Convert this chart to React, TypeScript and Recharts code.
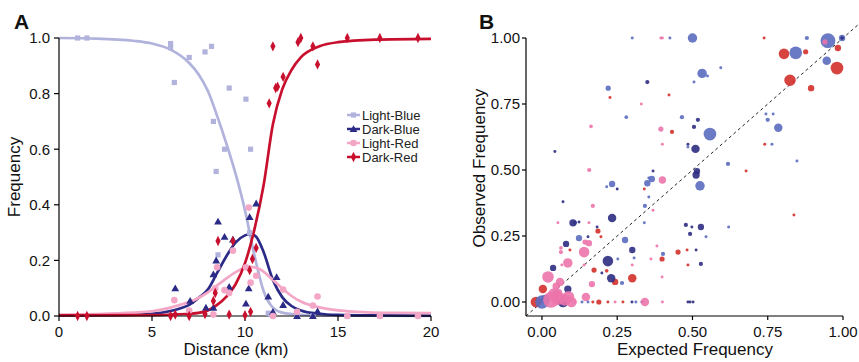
import React from 'react';
import { ComposedChart, ScatterChart, Line, Scatter, XAxis, YAxis, ZAxis, ReferenceLine } from 'recharts';

const FONT = '"Liberation Sans", Arial, sans-serif';

// ---------- Panel A data ----------
const distanceTicks = [0, 5, 10, 15, 20];
const freqTicksA = [0, 0.2, 0.4, 0.6, 0.8, 1.0];
const seriesNamesA = ['Light-Blue', 'Dark-Blue', 'Light-Red', 'Dark-Red'];

const lightBluePts: [number, number][] = [
  [1.0, 1.0], [1.5, 1.0], [6.0, 0.98], [6.0, 0.965], [6.2, 0.84], [7.0, 0.93], [7.85, 0.95], [8.2, 0.97],
  [8.3, 0.70], [8.45, 0.52], [8.9, 0.60], [9.15, 0.82], [10.05, 0.78], [10.3, 0.60], [8.55, 0.22], [10.25, 0.30],
  [11.25, 0.01], [11.4, 0.005], [12.8, 0.0], [13.65, 0.0], [15.5, 0.0], [17.25, 0.0], [19.3, 0.0],
];
const darkBluePts: [number, number][] = [
  [6.25, 0.10], [7.05, 0.055], [7.9, 0.03], [8.3, 0.03], [8.3, 0.15], [8.45, 0.20], [8.55, 0.34], [8.9, 0.285],
  [9.15, 0.105], [9.35, 0.275], [10.05, 0.045], [10.2, 0.10], [10.25, 0.356], [10.6, 0.405], [11.25, 0.07],
  [11.5, 0.015], [11.7, 0.14], [12.05, 0.04], [12.8, 0.0], [13.65, 0.0], [13.9, 0.017],
];
const lightRedPts: [number, number][] = [
  [6.2, 0.057], [7.0, 0.02], [8.3, 0.005], [8.4, 0.10], [8.5, 0.175], [8.9, 0.093], [9.15, 0.083], [9.35, 0.235],
  [10.05, 0.175], [10.2, 0.39], [10.3, 0.12], [10.6, 0.145], [11.5, 0.0], [12.05, 0.095], [12.8, 0.015],
  [13.65, 0.038], [13.9, 0.07], [15.5, 0.0], [17.25, 0.0], [19.3, 0.0],
];
const darkRedPts: [number, number][] = [
  [1.0, 0], [1.5, 0], [6.0, 0], [6.25, 0.005], [7.0, 0], [7.85, 0.007], [8.3, 0.054], [8.4, 0.083], [8.55, 0.27],
  [9.15, 0.005], [9.35, 0.27], [10.0, 0.003], [10.25, 0.165], [10.3, 0.015], [10.4, 0.205], [10.6, 0.245],
  [11.3, 0.765], [11.65, 0.82], [11.75, 0.825], [11.5, 0.97], [12.05, 0.86], [12.85, 0.985], [13.0, 1.0],
  [13.65, 0.97], [13.9, 0.905], [15.5, 1.0], [17.25, 1.0], [19.3, 1.0],
];

const lightBlueCurve: [number, number][] = [
  [0, 1.0], [2, 0.998], [4, 0.99], [5, 0.98], [6, 0.958], [7, 0.91], [7.5, 0.87], [8, 0.81], [8.5, 0.72],
  [9, 0.62], [9.5, 0.51], [10, 0.38], [10.5, 0.22], [11, 0.09], [11.5, 0.03], [12, 0.012], [13, 0.004],
  [14, 0.002], [16, 0.001], [20, 0.0],
];
const darkBlueCurve: [number, number][] = [
  [0, 0.002], [3, 0.003], [5, 0.008], [6, 0.018], [6.5, 0.027], [7, 0.04], [7.5, 0.065], [8, 0.095],
  [8.5, 0.155], [9, 0.215], [9.5, 0.265], [10, 0.29], [10.3, 0.295], [10.6, 0.285], [11, 0.23], [11.5, 0.13],
  [12, 0.068], [12.5, 0.036], [13, 0.02], [14, 0.008], [15, 0.004], [17, 0.002], [20, 0.001],
];
const lightRedCurve: [number, number][] = [
  [0, 0.005], [2, 0.007], [4, 0.012], [5, 0.017], [6, 0.03], [6.5, 0.04], [7, 0.05], [7.5, 0.065], [8, 0.085],
  [8.5, 0.11], [9, 0.135], [9.5, 0.158], [10, 0.173], [10.3, 0.177], [10.8, 0.168], [11.5, 0.13], [12, 0.1],
  [12.5, 0.072], [13, 0.052], [14, 0.031], [15, 0.02], [16, 0.015], [18, 0.011], [20, 0.01],
];
const darkRedCurve: [number, number][] = [
  [0, 0.002], [5, 0.003], [6, 0.005], [7, 0.008], [7.5, 0.011], [8, 0.02], [8.5, 0.04], [9, 0.07], [9.5, 0.115],
  [10, 0.19], [10.5, 0.31], [11, 0.47], [11.5, 0.69], [12, 0.815], [12.5, 0.885], [13, 0.93], [14, 0.97],
  [15, 0.985], [17, 0.994], [20, 0.997],
];

// ---------- Panel B data (x expected, y observed, z weight) ----------
const freqTicksB = [0, 0.25, 0.5, 0.75, 1.0];

const lightBlueB: [number, number, number][] = [
  [0.30, 1.0, 2], [0.22, 0.81, 6], [0.28, 0.70, 3], [0.355, 0.47, 2], [0.425, 1.0, 2], [0.50, 1.0, 20],
  [0.88, 1.0, 4], [0.95, 0.99, 49], [0.843, 0.944, 36], [0.946, 0.914, 16], [0.532, 0.866, 20], [0.55, 0.856, 2],
  [0.594, 0.887, 2], [0.505, 0.833, 2], [0.465, 0.70, 4], [0.558, 0.636, 36], [0.485, 0.587, 2], [0.744, 0.712, 2],
  [0.768, 0.712, 2], [0.75, 0.69, 4], [0.785, 0.66, 16], [0.764, 0.598, 2], [0.847, 0.534, 2], [0.618, 0.523, 4],
  [0.365, 0.466, 9], [0.35, 0.45, 9], [0.525, 0.44, 20], [0.355, 0.398, 2], [0.342, 0.364, 4], [0.34, 0.30, 2],
  [0.62, 0.284, 2], [0.545, 0.247, 2], [0.402, 0.182, 4], [0.233, 0.447, 9], [0.215, 0.437, 2], [0.11, 0.30, 4],
  [0.123, 0.242, 9], [0.276, 0.235, 9], [0.306, 0.167, 2], [0.252, 0.163, 2], [0.266, 0.072, 4], [0.997, 1.0, 9],
  [0.133, 0.0, 2], [0.153, 0.0, 2], [0.312, 0.0, 2], [0.332, 0.0, 2], [0.0, 0.0, 40], [0.012, 0.01, 20],
];
const darkBlueB: [number, number, number][] = [
  [0.35, 0.833, 4], [0.043, 0.57, 2], [0.518, 0.69, 4], [0.505, 0.663, 4], [0.485, 0.598, 2], [0.51, 0.58, 16],
  [0.369, 0.496, 2], [0.515, 0.496, 9], [0.512, 0.481, 12], [0.478, 0.292, 4], [0.498, 0.284, 2], [0.528, 0.284, 9],
  [0.492, 0.258, 4], [0.512, 0.197, 2], [0.528, 0.144, 4], [0.485, 0.0, 2], [0.492, 0.0, 2], [0.502, 0.0, 2],
  [0.25, 0.428, 2], [0.07, 0.38, 2], [0.233, 0.318, 16], [0.103, 0.30, 12], [0.123, 0.303, 2], [0.183, 0.284, 2],
  [0.153, 0.247, 2], [0.08, 0.22, 9], [0.30, 0.197, 9], [0.219, 0.155, 25], [0.037, 0.129, 9], [0.199, 0.11, 2],
  [0.23, 0.09, 16], [0.086, 0.049, 12], [0.07, 0.0, 25], [0.299, 0.0, 2], [0.997, 1.0, 3],
];
const redB: [number, number, number][] = [
  [0.226, 0.775, 2], [0.738, 1.0, 2], [0.983, 0.962, 9], [0.804, 0.94, 25], [0.876, 0.948, 6], [0.98, 0.886, 36],
  [0.824, 0.84, 30], [0.894, 0.81, 9], [0.422, 0.784, 2], [0.432, 0.644, 4], [0.74, 0.598, 2], [0.678, 0.496, 2],
  [0.34, 0.428, 2], [0.452, 0.189, 6], [0.482, 0.197, 2], [0.399, 0.163, 6], [0.485, 0.14, 2], [0.837, 0.33, 2],
  [0.186, 0.269, 6], [0.196, 0.247, 2], [0.093, 0.197, 2], [0.173, 0.121, 6], [0.243, 0.076, 9], [0.30, 0.09, 16],
  [0.003, 0.049, 16], [-0.02, 0.0, 25], [0.169, 0.0, 2], [0.189, 0.0, 6], [0.219, 0.0, 2], [0.269, 0.0, 2],
  [0.215, 0.118, 3],
];
const pinkB: [number, number, number][] = [
  [0.395, 1.0, 2], [0.40, 1.0, 2], [0.33, 0.75, 2], [0.163, 0.665, 3], [0.157, 0.50, 4], [0.395, 0.655, 6],
  [0.40, 0.598, 2], [0.40, 0.462, 12], [0.369, 0.348, 2], [0.382, 0.212, 2], [0.362, 0.163, 2], [0.399, 0.095, 2],
  [0.342, 0.0, 16], [0.40, 0.0, 2], [0.169, 0.364, 4], [0.053, 0.30, 2], [0.156, 0.30, 2], [0.143, 0.227, 6],
  [0.156, 0.223, 9], [0.14, 0.189, 25], [0.063, 0.189, 4], [0.086, 0.148, 20], [0.066, 0.14, 2], [0.14, 0.14, 2],
  [0.30, 0.14, 2], [0.166, 0.068, 9], [0.02, 0.095, 30], [0.06, 0.076, 16], [0.146, 0.019, 16], [0.047, 0.06, 12],
  [0.055, 0.035, 12], [0.03, 0.008, 56], [0.053, 0.015, 42], [0.075, 0.008, 30], [0.088, 0.02, 30],
  [0.098, 0.0, 25], [0.11, 0.0, 2], [0.243, 0.0, 2], [0.94, 0.985, 6], [0.063, 0.205, 3], [0.04, 0.03, 30],
];

// ---------- styles ----------
const C = {
  lightBlue: '#b1b3dc',
  darkBlue: '#2b2a87',
  lightRed: '#f3a6c6',
  darkRed: '#c8102e',
  bLightBlue: '#5b6bbf',
  bDarkBlue: '#2e2c82',
  bPink: '#ec74ab',
  bRed: '#d3302b',
};

const toDF = (arr: [number, number][]) => arr.map(([d, f]) => ({ d, f }));
const toXYZ = (arr: [number, number, number][]) => arr.map(([x, y, z]) => ({ x, y, z }));

const Square = ({ cx, cy, color }: any) => <rect x={cx - 2.6} y={cy - 2.6} width={5.2} height={5.2} fill={color} />;
const Tri = ({ cx, cy, color }: any) => (
  <polygon points={`${cx},${cy - 3.8} ${cx + 3.9},${cy + 3} ${cx - 3.9},${cy + 3}`} fill={color} />
);
const Dot = ({ cx, cy, color }: any) => <circle cx={cx} cy={cy} r={3.3} fill={color} />;
const Diam = ({ cx, cy, color }: any) => (
  <polygon points={`${cx},${cy - 5.2} ${cx + 2.6},${cy} ${cx},${cy + 5.2} ${cx - 2.6},${cy}`} fill={color} />
);

const shapesA = [Square, Tri, Dot, Diam];
const colorsA = [C.lightBlue, C.darkBlue, C.lightRed, C.darkRed];
const ptsA = [lightBluePts, darkBluePts, lightRedPts, darkRedPts];
const curvesA = [lightBlueCurve, darkBlueCurve, lightRedCurve, darkRedCurve];

const tickStyle = { fontSize: 15, fill: '#111', fontFamily: FONT };

function PanelA() {
  return (
    <ComposedChart width={450} height={362} margin={{ top: 38, right: 19, bottom: 16, left: 0 }}>
      <XAxis
        dataKey="d"
        type="number"
        domain={[0, 20]}
        ticks={distanceTicks}
        tick={tickStyle}
        tickSize={5}
        tickMargin={5}
        height={30}
        axisLine={{ stroke: '#000', strokeWidth: 1.2 }}
        tickLine={{ stroke: '#000', strokeWidth: 1.2 }}
      />
      <YAxis
        dataKey="f"
        type="number"
        domain={[0, 1]}
        ticks={freqTicksA}
        tickFormatter={(v: number) => v.toFixed(1)}
        tick={tickStyle}
        tickSize={5}
        tickMargin={4}
        width={59}
        axisLine={{ stroke: '#000', strokeWidth: 1.2 }}
        tickLine={{ stroke: '#000', strokeWidth: 1.2 }}
      />
      {ptsA.map((pts, i) => {
        const Shape = shapesA[i];
        return (
          <Scatter
            key={'s' + i}
            name={seriesNamesA[i]}
            data={toDF(pts)}
            dataKey="f"
            isAnimationActive={false}
            shape={(p: any) => <Shape cx={p.cx} cy={p.cy} color={colorsA[i]} />}
          />
        );
      })}
      {curvesA.map((c, i) => (
        <Line
          key={'l' + i}
          data={toDF(c)}
          dataKey="f"
          type="monotone"
          stroke={colorsA[i]}
          strokeWidth={2.7}
          dot={false}
          activeDot={false}
          isAnimationActive={false}
        />
      ))}
    </ComposedChart>
  );
}

function PanelB() {
  const series = [
    { d: redB, c: C.bRed },
    { d: lightBlueB, c: C.bLightBlue },
    { d: darkBlueB, c: C.bDarkBlue },
    { d: pinkB, c: C.bPink },
  ];
  return (
    <ScatterChart width={409} height={362} margin={{ top: 38, right: 16, bottom: 16, left: 0 }}>
      <XAxis
        dataKey="x"
        type="number"
        domain={[-0.053, 1]}
        ticks={freqTicksB}
        tickFormatter={(v: number) => v.toFixed(2)}
        tick={tickStyle}
        tickSize={4}
        tickMargin={6}
        height={30}
        axisLine={{ stroke: '#000', strokeWidth: 1.2 }}
        tickLine={{ stroke: '#000', strokeWidth: 1.2 }}
      />
      <YAxis
        dataKey="y"
        type="number"
        domain={[-0.053, 1]}
        ticks={freqTicksB}
        tickFormatter={(v: number) => v.toFixed(2)}
        tick={tickStyle}
        tickSize={4}
        tickMargin={2}
        width={76}
        axisLine={{ stroke: '#000', strokeWidth: 1.2 }}
        tickLine={{ stroke: '#000', strokeWidth: 1.2 }}
      />
      <ZAxis dataKey="z" type="number" domain={[0, 64]} range={[0, 225]} />
      {series.map((s, i) => (
        <Scatter key={i} data={toXYZ(s.d)} fill={s.c} fillOpacity={0.9} isAnimationActive={false} />
      ))}
      <ReferenceLine
        segment={[{ x: -0.053, y: -0.053 }, { x: 1.05, y: 1.05 }]}
        ifOverflow="visible"
        stroke="#222"
        strokeWidth={1}
        strokeDasharray="3 3"
      />
    </ScatterChart>
  );
}

export default function App() {
  const legendRows = [115, 129, 143, 157];
  return (
    <div style={{ position: 'absolute', left: 0, top: 0, width: 859, height: 362, background: '#fff' }}>
      <div style={{ position: 'absolute', left: 0, top: 0 }}>
        <PanelA />
      </div>
      <div style={{ position: 'absolute', left: 450, top: 0 }}>
        <PanelB />
      </div>
      <svg
        width={859}
        height={362}
        style={{ position: 'absolute', left: 0, top: 0, pointerEvents: 'none' }}
        fontFamily={FONT}
      >
        <text x={14} y={29} fontSize={21} fontWeight="bold" fill="#111">A</text>
        <text x={479} y={29} fontSize={21} fontWeight="bold" fill="#111">B</text>
        <text x={20} y={177} fontSize={17} fill="#111" textAnchor="middle" transform="rotate(-90 20 177)">Frequency</text>
        <text x={236} y={355} fontSize={17} fill="#111" textAnchor="middle">Distance (km)</text>
        <text x={485} y={168} fontSize={17} fill="#111" textAnchor="middle" transform="rotate(-90 485 168)">Observed Frequency</text>
        <text x={695} y={355} fontSize={17} fill="#111" textAnchor="middle">Expected Frequency</text>
        {seriesNamesA.map((name, i) => {
          const Shape = shapesA[i];
          const y = legendRows[i];
          return (
            <g key={name}>
              <line x1={347} x2={360} y1={y} y2={y} stroke={colorsA[i]} strokeWidth={2.5} />
              <Shape cx={353.5} cy={y} color={colorsA[i]} />
              <text x={362} y={y + 4.6} fontSize={13} fill="#222">{name}</text>
            </g>
          );
        })}
      </svg>
    </div>
  );
}
